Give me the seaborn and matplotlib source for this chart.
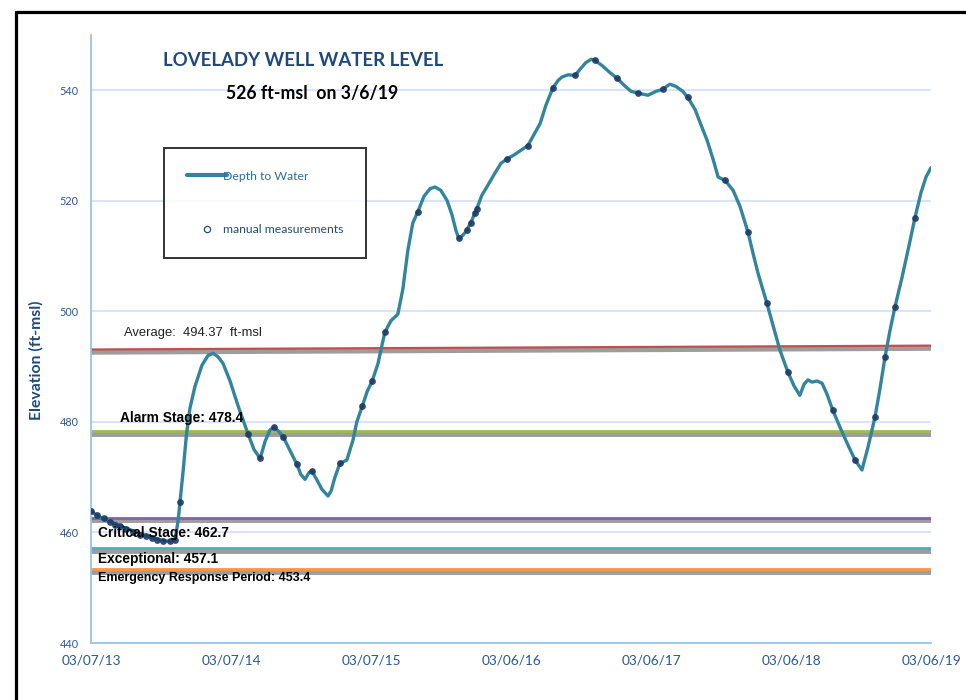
import matplotlib
matplotlib.use("Agg")
import numpy as np
import pandas as pd
import matplotlib.pyplot as plt
import matplotlib.dates as mdates
import matplotlib.patheffects as pe
from matplotlib.lines import Line2D
import seaborn as sns

# continuous logger record
line_dates = ['2013-03-07', '2013-03-30', '2013-04-26', '2013-05-22', '2013-06-17', '2013-07-13',
              '2013-08-08', '2013-09-03', '2013-09-24', '2013-10-12', '2013-10-20', '2013-10-25',
              '2013-11-02', '2013-11-11', '2013-11-20', '2013-12-03', '2013-12-21', '2014-01-06',
              '2014-01-19', '2014-02-01', '2014-02-14', '2014-03-04', '2014-03-25', '2014-04-20',
              '2014-05-06', '2014-05-22', '2014-06-04', '2014-06-17', '2014-06-27', '2014-07-08',
              '2014-07-21', '2014-08-08', '2014-08-26', '2014-09-05', '2014-09-16', '2014-09-26',
              '2014-10-04', '2014-10-17', '2014-10-30', '2014-11-15', '2014-11-23', '2014-12-03',
              '2014-12-16', '2015-01-03', '2015-01-19', '2015-01-29', '2015-02-12', '2015-02-25',
              '2015-03-10', '2015-03-25', '2015-04-12', '2015-04-28', '2015-05-16', '2015-05-29',
              '2015-06-11', '2015-06-24', '2015-07-07', '2015-07-23', '2015-08-08', '2015-08-21',
              '2015-09-05', '2015-09-21', '2015-10-04', '2015-10-15', '2015-10-22', '2015-11-02',
              '2015-11-12', '2015-11-25', '2015-12-08', '2015-12-21', '2016-01-03', '2016-01-24',
              '2016-02-09', '2016-02-25', '2016-03-14', '2016-03-29', '2016-04-19', '2016-05-05',
              '2016-05-21', '2016-06-05', '2016-06-23', '2016-07-07', '2016-07-17', '2016-08-02',
              '2016-08-20', '2016-09-02', '2016-09-17', '2016-10-01', '2016-10-11', '2016-10-29',
              '2016-11-19', '2016-12-07', '2016-12-26', '2017-01-13', '2017-01-31', '2017-02-13',
              '2017-02-26', '2017-03-19', '2017-04-06', '2017-04-24', '2017-05-10', '2017-05-28',
              '2017-06-10', '2017-06-29', '2017-07-14', '2017-07-30', '2017-08-15', '2017-08-28',
              '2017-09-15', '2017-10-06', '2017-10-24', '2017-11-14', '2017-11-27', '2017-12-10',
              '2018-01-02', '2018-01-18', '2018-02-05', '2018-02-26', '2018-03-14', '2018-03-29',
              '2018-04-09', '2018-04-19', '2018-04-30', '2018-05-13', '2018-05-26', '2018-06-08',
              '2018-06-23', '2018-07-12', '2018-07-30', '2018-08-20', '2018-09-07', '2018-09-23',
              '2018-10-11', '2018-10-24', '2018-11-06', '2018-11-19', '2018-12-02', '2018-12-20',
              '2019-01-08', '2019-01-23', '2019-02-08', '2019-02-21', '2019-03-06']
line_levels = [463.8, 462.8, 462.0, 461.2, 460.5, 459.8,
               459.2, 458.7, 458.4, 458.7, 462.0, 465.5,
               471.0, 477.8, 482.5, 486.4, 490.2, 492.0,
               492.4, 491.8, 490.6, 487.5, 483.0, 477.9,
               475.0, 473.4, 476.5, 478.6, 479.0, 478.4,
               477.3, 474.8, 472.3, 470.5, 469.6, 470.8,
               471.1, 469.5, 467.8, 466.6, 467.5, 470.0,
               472.5, 473.1, 476.7, 480.0, 482.8, 485.5,
               487.4, 490.5, 496.2, 498.3, 499.5, 504.0,
               511.0, 516.0, 518.0, 520.8, 522.2, 522.5,
               521.9, 520.1, 517.5, 514.5, 513.2, 513.8,
               514.7, 516.5, 518.6, 521.0, 522.5, 525.0,
               526.8, 527.6, 528.3, 529.0, 530.0, 532.0,
               534.0, 537.3, 540.4, 541.8, 542.4, 542.8,
               542.7, 543.8, 545.0, 545.6, 545.4, 544.5,
               543.2, 542.2, 540.9, 539.8, 539.5, 539.3,
               539.1, 539.8, 540.2, 541.1, 540.7, 539.8,
               538.7, 536.5, 533.8, 531.0, 527.5, 524.3,
               523.7, 521.9, 519.0, 514.3, 510.5, 506.9,
               501.5, 497.5, 493.0, 489.0, 486.5, 484.8,
               486.8, 487.6, 487.2, 487.4, 487.0, 485.0,
               482.1, 479.0, 476.2, 473.1, 471.3, 475.5,
               480.9, 486.0, 491.7, 496.5, 500.8, 506.0,
               512.0, 516.9, 521.5, 524.3, 526.0]

# manual measurements
manual_dates = ['2013-03-07', '2013-03-23', '2013-04-10', '2013-04-26', '2013-05-09', '2013-05-22',
                '2013-06-06', '2013-06-25', '2013-07-13', '2013-07-28', '2013-08-13', '2013-08-26',
                '2013-09-11', '2013-09-29', '2013-10-12', '2013-10-25', '2014-04-20', '2014-05-22',
                '2014-06-27', '2014-07-21', '2014-08-26', '2014-10-04', '2014-12-16', '2015-02-12',
                '2015-03-10', '2015-04-12', '2015-07-07', '2015-10-22', '2015-11-12', '2015-11-22',
                '2015-12-03', '2015-12-08', '2016-02-25', '2016-04-19', '2016-06-23', '2016-08-20',
                '2016-10-11', '2016-12-07', '2017-01-31', '2017-04-06', '2017-06-10', '2017-09-15',
                '2017-11-14', '2018-01-02', '2018-02-26', '2018-06-23', '2018-08-20', '2018-10-11',
                '2018-11-06', '2018-12-02', '2019-01-23']
manual_levels = [463.8, 463.2, 462.7, 461.9, 461.4, 461.2,
                 460.6, 460.1, 459.6, 459.3, 459.0, 458.7,
                 458.5, 458.5, 458.7, 465.5, 477.9, 473.4,
                 479.0, 477.3, 472.3, 471.1, 472.5, 482.8,
                 487.4, 496.2, 518.0, 513.2, 514.7, 516.0,
                 517.8, 518.6, 527.6, 530.0, 540.4, 542.7,
                 545.4, 542.2, 539.5, 540.2, 538.7, 523.7,
                 514.3, 501.5, 489.0, 482.1, 473.1, 480.9,
                 491.7, 500.8, 516.9]

stage_names = ['Alarm Stage', 'Critical Stage', 'Exceptional', 'Emergency Response Period']
stage_levels = [478.4, 462.7, 457.1, 453.4]
stage_colors = ['#9BBB59', '#8064A2', '#4BACC6', '#F79646']

average_level = 494.37
average_trend = [493.1, 493.8]

xtick_dates = ['2013-03-07', '2014-03-07', '2015-03-07', '2016-03-06',
               '2017-03-06', '2018-03-06', '2019-03-06']
ytick_values = [440, 460, 480, 500, 520, 540]

sns.set_style('white')
plt.rcParams['font.family'] = ['Lato', 'DejaVu Sans']

line_df = pd.DataFrame({'date': pd.to_datetime(line_dates), 'level': line_levels})
manual_df = pd.DataFrame({'date': pd.to_datetime(manual_dates), 'level': manual_levels})
start, end = pd.Timestamp(xtick_dates[0]), pd.Timestamp(xtick_dates[-1])

fig = plt.figure(figsize=(9.66, 7.0), dpi=100)
ax = fig.add_axes([91 / 966, 57 / 700, 840 / 966, 608 / 700])

teal = '#31859C'
navy = '#1F3A64'
blue_text = '#2B5797'
shadow = [pe.SimpleLineShadow(offset=(0, -2), shadow_color='0.3', alpha=0.55, linewidth=3.5), pe.Normal()]

# threshold lines with their drop shadow
ax.plot([start, end], average_trend, color='#C0504D', lw=1.6, path_effects=shadow, zorder=2)
for lvl, col in zip(stage_levels, stage_colors):
    ax.axhline(lvl, color=col, lw=2.0, path_effects=shadow, zorder=2)

sns.lineplot(data=line_df, x='date', y='level', ax=ax, color=teal, linewidth=2.4, zorder=3)
sns.scatterplot(data=manual_df, x='date', y='level', ax=ax, color=navy, s=24,
                linewidth=0, alpha=0.9, zorder=4)

# labels on the threshold lines
lab_tr = ax.get_yaxis_transform()
ax.text(0.039, 496.1, 'Average:  {:.2f}  ft-msl'.format(average_level), transform=lab_tr,
        fontsize=9.4, family='Liberation Sans', va='center', color='#222222')
label_x = [0.0345, 0.008, 0.008, 0.008]
label_y = [480.7, 459.9, 455.2, 451.8]
label_size = [9.9, 9.9, 9.9, 9.0]
for name, lvl, lx, ly, fs in zip(stage_names, stage_levels, label_x, label_y, label_size):
    ax.text(lx, ly, '{}: {}'.format(name, lvl), transform=lab_tr, fontsize=fs,
            family='Liberation Sans', weight='bold', va='center', color='black', zorder=5)

ax.set_xlim(start, end)
ax.set_ylim(440, 550)
ax.set_xticks(pd.to_datetime(xtick_dates))
ax.xaxis.set_major_formatter(mdates.DateFormatter('%m/%d/%y'))
ax.set_yticks(ytick_values)
ax.tick_params(axis='x', length=0, pad=8, labelsize=9.8, labelcolor=blue_text)
ax.tick_params(axis='y', length=0, pad=9, labelsize=7.8, labelcolor=blue_text)
ax.grid(axis='y', color='#D6E3F5', lw=1.3)
ax.set_xlabel('')
ax.set_ylabel('Elevation (ft-msl)', fontsize=11.3, weight='bold', color='#1F497D', labelpad=5)
ax.yaxis.set_label_coords(-0.056, (643 - 360) / 608)
for side in ['top', 'right']:
    ax.spines[side].set_visible(False)
for side in ['left', 'bottom']:
    ax.spines[side].set_color('#9DC3E6')
    ax.spines[side].set_linewidth(1.3)

handles = [Line2D([], [], color=teal, lw=3),
           Line2D([], [], marker='o', ls='', markerfacecolor='white',
                  markeredgecolor='#1F4E79', markersize=4.5, markeredgewidth=0.9)]
leg = ax.legend(handles, ['Depth to Water', 'manual measurements'], loc='upper left',
                bbox_to_anchor=(73 / 840, (643 - 148) / 608), borderaxespad=0, fontsize=8.8,
                frameon=True, fancybox=False, edgecolor='black', borderpad=1.85, labelspacing=3.5,
                handlelength=3.3, handletextpad=-0.3, labelcolor=['#2E6E9E', '#1F4E79'])
leg.get_frame().set_linewidth(1.4)

fig.text(303 / 966, 1 - 60 / 700, 'LOVELADY WELL WATER LEVEL', ha='center', va='center',
         fontsize=13.4, weight='bold', color='#1F497D')
fig.text(312 / 966, 1 - 93 / 700, '526 ft-msl  on 3/6/19', ha='center', va='center',
         fontsize=12.7, weight='bold', color='black')

# outer frame (only left and top edges fall inside the picture)
fx, fy = 15.5 / 966, 1 - 11.5 / 700
fig.add_artist(Line2D([fx, fx], [0, fy], color='black', lw=2.3, transform=fig.transFigure))
fig.add_artist(Line2D([fx, 1], [fy, fy], color='black', lw=2.3, transform=fig.transFigure))

fig.savefig('out.png', dpi=100)
